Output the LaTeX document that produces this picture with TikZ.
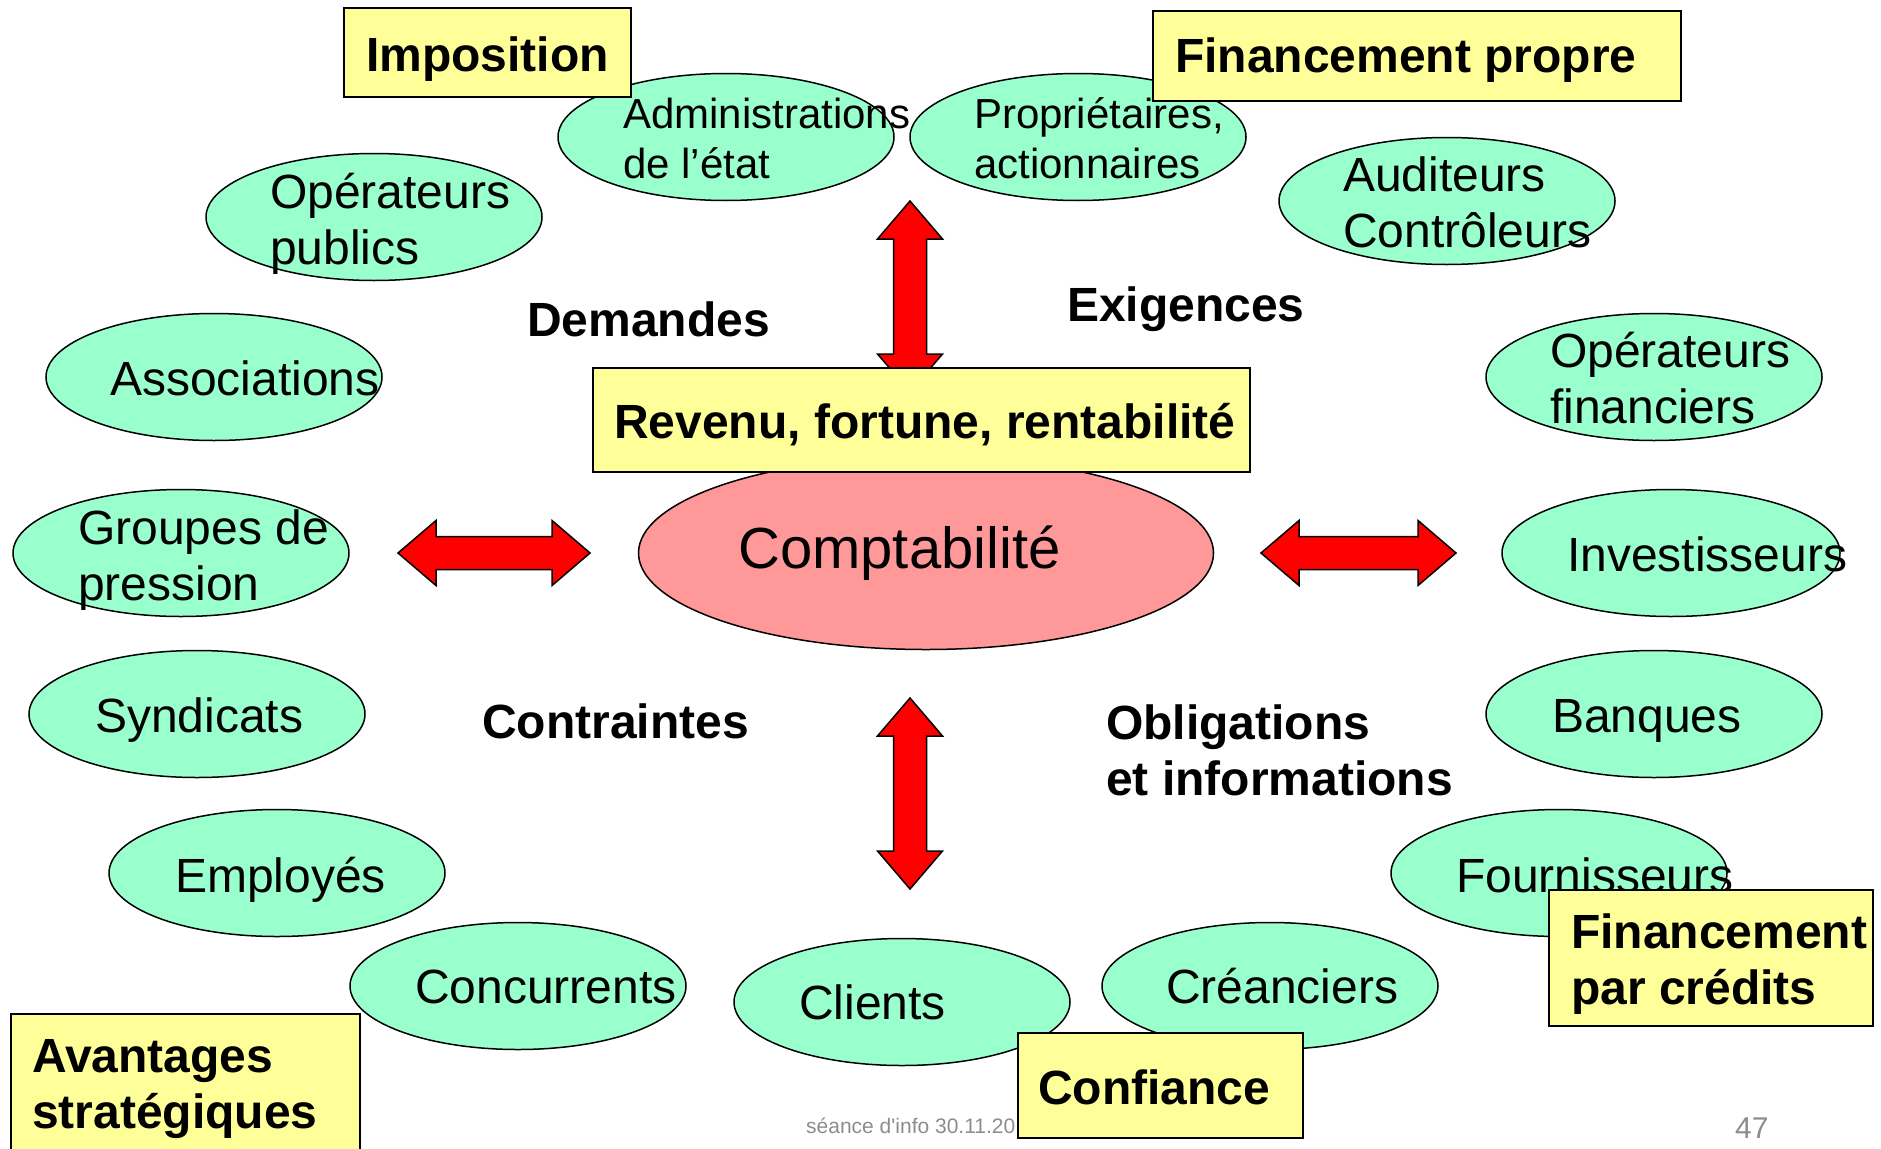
\documentclass[tikz,border=0pt]{standalone}
\usepackage{fontspec}
\setmainfont{Liberation Sans}
\newfontfamily\footfont{Liberation Sans}
\usetikzlibrary{shapes.geometric}

\definecolor{actgreen}{HTML}{99FFCC}
\definecolor{comptapink}{HTML}{FF9999}
\definecolor{boxyellow}{HTML}{FFFF99}
\definecolor{footgray}{HTML}{8C8C8C}

\tikzset{
    actor/.style={draw, ellipse, fill=actgreen, line width=1.5pt,
        minimum width=336pt, minimum height=127pt, inner sep=0pt},
    ybox/.style={draw, rectangle, fill=boxyellow, line width=1.5pt, inner sep=0pt},
    atext/.style={anchor=base west, inner sep=0pt, align=left,
        font=\fontsize{48}{56}\selectfont},
    stext/.style={atext, font=\fontsize{42}{50}\selectfont},
    btext/.style={anchor=base west, inner sep=0pt, align=left,
        font=\bfseries\fontsize{48}{56}\selectfont},
    bigarrow/.style={fill=red, draw=black, line width=1.5pt, line join=miter},
    pics/dblarrow/.style={code={
        \filldraw[bigarrow] (-#1,0) -- (-#1+38,-32.5) -- (-#1+38,-16.5)
            -- (#1-38,-16.5) -- (#1-38,-32.5) -- (#1,0) -- (#1-38,32.5)
            -- (#1-38,16.5) -- (-#1+38,16.5) -- (-#1+38,32.5) -- cycle;
    }},
}

\begin{document}
\begin{tikzpicture}[x=1pt, y=-1pt]

    \useasboundingbox (0,0) rectangle (1881,1148);

    % Ellipses of the partners
    \node[actor] (admin_ell) at (726,137) {};
    \node[actor] (owners_ell) at (1078,137) {};
    \node[actor] (oppub_ell) at (374,217) {};
    \node[actor] (audit_ell) at (1447,201) {};
    \node[actor] (assoc_ell) at (214,377) {};
    \node[actor] (opfin_ell) at (1654,377) {};
    \node[actor] (groups_ell) at (181,553) {};
    \node[actor, minimum width=338pt] (invest_ell) at (1671,553) {};
    \node[actor] (unions_ell) at (197,714) {};
    \node[actor] (banks_ell) at (1654,714) {};
    \node[actor] (staff_ell) at (277,873) {};
    \node[actor] (suppl_ell) at (1559,873) {};
    \node[actor] (rivals_ell) at (518,986) {};
    \node[actor] (credit_ell) at (1270,986) {};
    \node[actor] (clients_ell) at (902,1002) {};

    % Names of the partners (base = last line)
    \node[stext] (admin_txt) at (623,178) {Administrations\\de l’état};
    \node[stext] (owners_txt) at (974,178) {Propriétaires,\\actionnaires};
    \node[atext] (oppub_txt) at (270,264) {Opérateurs\\publics};
    \node[atext] (audit_txt) at (1343,247) {Auditeurs\\Contrôleurs};
    \node[atext] (assoc_txt) at (110,395) {Associations};
    \node[atext] (opfin_txt) at (1550,423) {Opérateurs\\financiers};
    \node[atext] (groups_txt) at (78,600) {Groupes de\\pression};
    \node[atext] (invest_txt) at (1567,571) {Investisseurs};
    \node[atext] (unions_txt) at (95,732) {Syndicats};
    \node[atext] (banks_txt) at (1552,732) {Banques};
    \node[atext] (staff_txt) at (175,892) {Employés};
    \node[atext] (suppl_txt) at (1456,892) {Fournisseurs};
    \node[atext] (rivals_txt) at (415,1003) {Concurrents};
    \node[atext] (credit_txt) at (1166,1003) {Créanciers};
    \node[atext] (clients_txt) at (799,1019) {Clients};

    % Centre
    \node[actor, fill=comptapink, minimum width=575pt, minimum height=193pt] (compta_ell) at (926,553) {};
    \node[atext, font=\fontsize{58}{66}\selectfont] (compta_txt) at (738,568) {Comptabilité};

    % Double arrows
    \pic at (494,553) {dblarrow=96};
    \pic at (1358.5,553) {dblarrow=97.5};
    \pic[rotate=90] at (910,296.5) {dblarrow=95.5};
    \pic[rotate=90] at (910,793.5) {dblarrow=95.5};

    % Free labels
    \node[btext] (demand_lbl) at (527,336) {Demandes};
    \node[btext] (exig_lbl) at (1067,321) {Exigences};
    \node[btext] (constr_lbl) at (482,738) {Contraintes};
    \node[btext] (oblig_lbl) at (1106,795) {Obligations\\et informations};

    % Footer
    \node[anchor=base west, inner sep=0pt, text=footgray, font=\footfont\fontsize{21}{25}\selectfont] (foot_txt) at (806,1133) {séance d'info 30.11.20};
    \node[anchor=base west, inner sep=0pt, text=footgray, font=\footfont\fontsize{30}{36}\selectfont] (page_txt) at (1735,1138) {47};

    % Yellow boxes
    \node[ybox, minimum width=287pt, minimum height=89pt] (imp_box) at (487.5,52.5) {};
    \node[btext] (imp_txt) at (366,71) {Imposition};
    \node[ybox, minimum width=528pt, minimum height=90pt] (fprop_box) at (1417,56) {};
    \node[btext] (fprop_txt) at (1175,73) {Financement propre};
    \node[ybox, minimum width=657pt, minimum height=104pt] (rev_box) at (921.5,420) {};
    \node[btext] (rev_txt) at (614,438) {Revenu, fortune, rentabilité};
    \node[ybox, minimum width=324pt, minimum height=136pt] (fcred_box) at (1711,958) {};
    \node[btext] (fcred_txt) at (1571,1004) {Financement\\par crédits};
    \node[ybox, minimum width=285pt, minimum height=105pt] (conf_box) at (1160.5,1085.5) {};
    \node[btext] (conf_txt) at (1038,1104) {Confiance};
    \node[ybox, minimum width=349pt, minimum height=156pt] (avant_box) at (185.5,1092) {};
    \node[btext] (avant_txt) at (32,1128) {Avantages\\stratégiques};

\end{tikzpicture}
\end{document}
